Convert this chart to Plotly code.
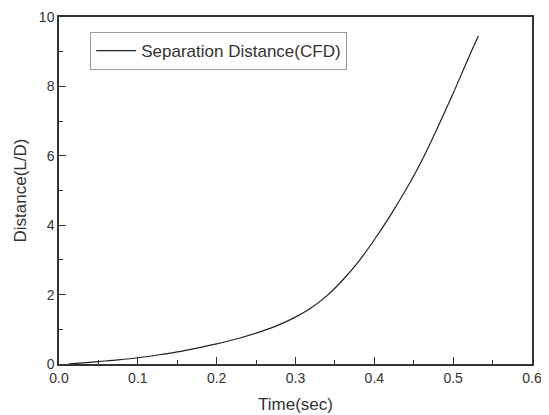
import plotly.graph_objects as go

# Separation distance
time_sec = [0.012, 0.03, 0.05, 0.075, 0.10, 0.125, 0.15, 0.175, 0.20, 0.225, 0.25,
            0.275, 0.30, 0.32, 0.34, 0.36, 0.38, 0.40, 0.42, 0.44, 0.46, 0.48,
            0.50, 0.52, 0.532]
distance_ld = [0.0, 0.03, 0.07, 0.12, 0.18, 0.26, 0.35, 0.46, 0.58, 0.72, 0.89,
               1.09, 1.35, 1.62, 1.97, 2.42, 2.95, 3.58, 4.27, 5.02, 5.85, 6.8,
               7.8, 8.85, 9.45]

x_ticks = [0.0, 0.1, 0.2, 0.3, 0.4, 0.5, 0.6]
x_tick_text = ["0.0", "0.1", "0.2", "0.3", "0.4", "0.5", "0.6"]
y_ticks = [0, 2, 4, 6, 8, 10]

fig = go.Figure()
fig.add_trace(go.Scatter(x=time_sec, y=distance_ld, mode="lines",
                         line=dict(color="#222222", width=1.2, shape="spline", smoothing=1.0),
                         name="Separation Distance(CFD)"))

axis_common = dict(showline=True, linecolor="#333333", linewidth=1.5, mirror=True,
                   ticks="inside", ticklen=7, tickcolor="#333333", tickwidth=1.2,
                   showgrid=False, zeroline=False, automargin=False,
                   tickfont=dict(size=14, color="#333333"))

fig.update_xaxes(range=[0, 0.6], tickvals=x_ticks, ticktext=x_tick_text,
                 title=dict(text="Time(sec)", font=dict(size=17, color="#333333"), standoff=14),
                 minor=dict(ticks="inside", ticklen=4, dtick=0.05, tickcolor="#333333"),
                 **axis_common)
fig.update_yaxes(range=[0, 10], tickvals=y_ticks,
                 title=dict(text="Distance(L/D)", font=dict(size=17, color="#333333"), standoff=8),
                 minor=dict(ticks="inside", ticklen=4, dtick=1, tickcolor="#333333"),
                 **axis_common)

# the page adds an ~8px offset around the figure, so margins are trimmed on top/left
fig.update_layout(
    width=549, height=415,
    margin=dict(l=51, r=25, t=9, b=59),
    paper_bgcolor="white", plot_bgcolor="white",
    font=dict(family="Liberation Sans, Arial, sans-serif", color="#333333"),
    showlegend=True,
    legend=dict(x=0.066, y=0.902, xanchor="left", yanchor="middle",
                bordercolor="#999999", borderwidth=1, bgcolor="white",
                font=dict(size=17, color="#333333"),
                itemwidth=40, tracegroupgap=0),
)

fig.write_html("out.html")
